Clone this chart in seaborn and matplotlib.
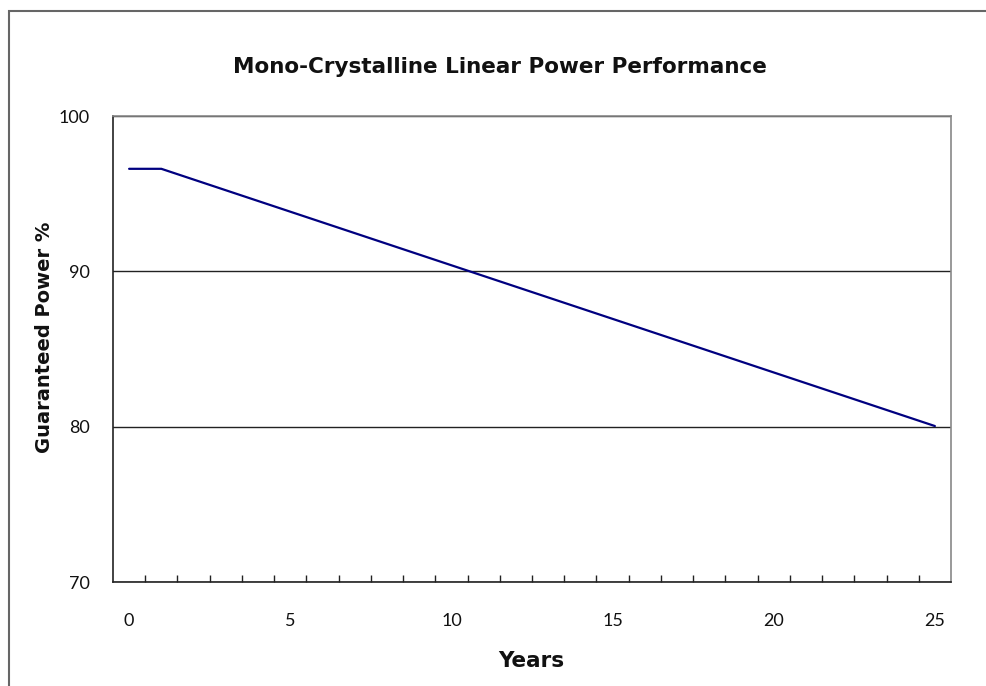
import numpy as np
import pandas as pd
import matplotlib
matplotlib.use("Agg")
import matplotlib.pyplot as plt
import seaborn as sns
from matplotlib.patches import Rectangle

# Guaranteed power per year
years = list(range(0, 26))
power = [96.6, 96.6, 95.91, 95.22, 94.53, 93.84, 93.15, 92.46, 91.77, 91.08,
         90.39, 89.70, 89.01, 88.32, 87.63, 86.94, 86.25, 85.56, 84.87, 84.18,
         83.49, 82.80, 82.11, 81.42, 80.73, 80.04]
y_ticks = [70, 80, 90, 100]
x_labels = [0, 5, 10, 15, 20, 25]

df = pd.DataFrame({"Years": years, "Power": power})

sns.set_theme(style="white")
plt.rcParams["font.family"] = ["Lato", "DejaVu Sans"]

fig = plt.figure(figsize=(9.87, 6.86), dpi=100)
ax = fig.add_axes([113 / 987, 1 - 582 / 686, 838 / 987, 466 / 686])

# outer chart border (cut off at right/bottom like the reference)
fig.patches.append(Rectangle((9 / 987, -0.1), 1.2, 1 - 11 / 686 + 0.1,
                             transform=fig.transFigure, fill=False,
                             edgecolor="#666666", linewidth=1.5))

sns.lineplot(data=df, x="Years", y="Power", ax=ax, color="#000080", linewidth=1.6)

ax.set_xlim(-0.5, 25.5)
ax.set_ylim(70, 100)
ax.set_yticks(y_ticks)
ax.set_xticks(x_labels)
ax.set_xticks([k + 0.5 for k in range(0, 25)], minor=True)
ax.tick_params(axis="x", which="major", length=0, pad=22, labelsize=13, colors="#111111")
ax.tick_params(axis="x", which="minor", direction="in", length=5, width=1, color="#222222", bottom=True)
ax.tick_params(axis="y", length=0, pad=17, labelsize=13, colors="#111111")

ax.yaxis.grid(True, color="#222222", linewidth=1)
ax.xaxis.grid(False)

for side in ["left", "bottom"]:
    ax.spines[side].set_color("#222222")
    ax.spines[side].set_linewidth(1.2)
for side in ["top", "right"]:
    ax.spines[side].set_color("#888888")
    ax.spines[side].set_linewidth(1.2)

ax.set_xlabel("")
ax.set_ylabel("")

bold = dict(family=["DejaVu Sans"], fontweight="bold", color="#111111")
fig.text(500 / 987, 1 - 67 / 686, "Mono-Crystalline Linear Power Performance",
         ha="center", va="center", fontsize=15.5, **bold)
fig.text(531 / 987, 1 - 661 / 686, "Years", ha="center", va="center",
         fontsize=15.5, **bold)
fig.text(45 / 987, 1 - 337 / 686, "Guaranteed Power %", ha="center", va="center",
         rotation=90, fontsize=14, **bold)

fig.savefig("out.png", dpi=100)
